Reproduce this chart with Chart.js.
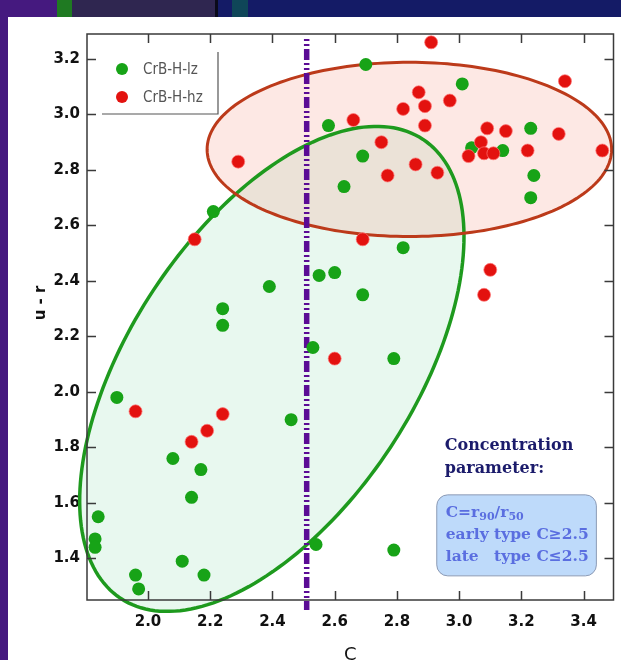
<!DOCTYPE html>
<html>
<head>
<meta charset="utf-8">
<title>CrB-H u-r vs C</title>
<script src="https://cdn.jsdelivr.net/npm/chart.js@4/dist/chart.umd.min.js"></script>
<style>
  html, body { margin: 0; padding: 0; background: #45197f; overflow: hidden; }
  #myChart { display: block; width: 621px; height: 660px; }
</style>
</head>
<body>
<canvas id="myChart" width="621" height="660"></canvas>
<script>
// concentration C and u-r colour, low-z group
const lzC = [2.70, 3.01, 2.58, 2.69, 2.63, 3.04, 3.14, 3.23, 3.24, 3.23, 2.21, 2.82,
  1.90, 2.39, 2.24, 2.24, 2.46, 2.53, 2.55, 2.60, 2.69, 2.79, 2.08, 2.17, 2.14,
  1.84, 1.83, 1.83, 2.11, 1.96, 1.97, 2.18, 2.54, 2.79];
const lzUR = [3.18, 3.11, 2.96, 2.85, 2.74, 2.88, 2.87, 2.95, 2.78, 2.70, 2.65, 2.52,
  1.98, 2.38, 2.30, 2.24, 1.90, 2.16, 2.42, 2.43, 2.35, 2.12, 1.76, 1.72, 1.62,
  1.55, 1.47, 1.44, 1.39, 1.34, 1.29, 1.34, 1.45, 1.43];

// high-z group
const hzC = [2.91, 3.34, 2.87, 2.97, 2.82, 2.89, 2.66, 2.89, 3.09, 3.15, 3.32, 3.07,
  2.75, 3.08, 3.11, 3.03, 3.22, 3.46, 2.29, 2.86, 2.93, 2.77, 2.69, 2.15, 1.96,
  2.24, 2.19, 2.14, 3.10, 3.08, 2.60];
const hzUR = [3.26, 3.12, 3.08, 3.05, 3.02, 3.03, 2.98, 2.96, 2.95, 2.94, 2.93, 2.90,
  2.90, 2.86, 2.86, 2.85, 2.87, 2.87, 2.83, 2.82, 2.79, 2.78, 2.55, 2.55, 1.93,
  1.92, 1.86, 1.82, 2.44, 2.35, 2.12];

const xTicks = [2.0, 2.2, 2.4, 2.6, 2.8, 3.0, 3.2, 3.4];
const yTicks = [1.4, 1.6, 1.8, 2.0, 2.2, 2.4, 2.6, 2.8, 3.0, 3.2];

const cutC = 2.51; // early / late split line

// ellipses in data units: centre, two half-axis vectors
const redEll = { c: [2.84, 2.874], u: [0.650, 0], v: [0, 0.314] };
const greenEll = { c: [2.398, 2.083], u: [0.486, 0.827], v: [-0.381, 0.283] };

const tickFont = { family: "DejaVu Sans", size: 15, weight: "bold" };

function ellipsePath(c, xs, ys, e) {
  c.beginPath();
  for (let i = 0; i <= 200; i++) {
    const t = (i / 200) * Math.PI * 2;
    const px = xs.getPixelForValue(e.c[0] + e.u[0] * Math.cos(t) + e.v[0] * Math.sin(t));
    const py = ys.getPixelForValue(e.c[1] + e.u[1] * Math.cos(t) + e.v[1] * Math.sin(t));
    if (i === 0) c.moveTo(px, py);
    else c.lineTo(px, py);
  }
  c.closePath();
}

const deco = {
  id: "deco",
  beforeDraw(chart) {
    const c = chart.ctx;
    c.save();
    c.fillStyle = "#45197f";
    c.fillRect(0, 0, chart.width, chart.height);
    // strip of the slide above the panel
    c.fillStyle = "#1f7a22";
    c.fillRect(57, 0, 15, 17);
    c.fillStyle = "#2f2650";
    c.fillRect(72, 0, 143, 17);
    c.fillStyle = "#0a0a1a";
    c.fillRect(215, 0, 3, 17);
    c.fillStyle = "#141b66";
    c.fillRect(218, 0, chart.width - 218, 17);
    c.fillStyle = "#0f4658";
    c.fillRect(232, 0, 16, 17);
    c.fillStyle = "#ffffff";
    c.fillRect(8, 17, chart.width - 8, chart.height - 17);
    c.restore();
  },
  beforeDatasetsDraw(chart) {
    const c = chart.ctx;
    const xs = chart.scales.x, ys = chart.scales.y;
    c.save();
    ellipsePath(c, xs, ys, greenEll);
    c.fillStyle = "rgba(150,225,180,0.22)";
    c.fill();
    ellipsePath(c, xs, ys, redEll);
    c.fillStyle = "rgba(245,150,130,0.22)";
    c.fill();
    c.lineWidth = 3.5;
    c.strokeStyle = "#1e9a1e";
    ellipsePath(c, xs, ys, greenEll);
    c.stroke();
    c.lineWidth = 3;
    c.strokeStyle = "#bc3a1a";
    ellipsePath(c, xs, ys, redEll);
    c.stroke();

    // dash-dot split line
    const lx = xs.getPixelForValue(cutC);
    c.beginPath();
    c.moveTo(lx, ys.getPixelForValue(3.272));
    c.lineTo(lx, ys.getPixelForValue(1.214));
    c.setLineDash([2, 3, 2, 3, 11, 3]);
    c.lineWidth = 5.5;
    c.strokeStyle = "#5b0c95";
    c.stroke();
    c.restore();
  },
  afterDatasetsDraw(chart) {
    const c = chart.ctx;
    const xs = chart.scales.x, ys = chart.scales.y;
    const { left, right, top, bottom } = chart.chartArea;
    c.save();
    // frame and inward ticks
    c.strokeStyle = "#3a3a3a";
    c.lineWidth = 1.5;
    c.strokeRect(left, top, right - left, bottom - top);
    c.beginPath();
    xTicks.forEach((v) => {
      const px = Math.round(xs.getPixelForValue(v)) + 0.5;
      c.moveTo(px, bottom); c.lineTo(px, bottom - 9);
      c.moveTo(px, top); c.lineTo(px, top + 9);
    });
    yTicks.forEach((v) => {
      const py = Math.round(ys.getPixelForValue(v)) + 0.5;
      c.moveTo(left, py); c.lineTo(left + 9, py);
      c.moveTo(right, py); c.lineTo(right - 9, py);
    });
    c.stroke();

    // legend
    c.strokeStyle = "#555";
    c.lineWidth = 1.2;
    c.beginPath();
    c.moveTo(left + 131, top + 18);
    c.lineTo(left + 131, top + 80);
    c.lineTo(left + 15, top + 80);
    c.stroke();
    c.font = "15px 'DejaVu Sans Condensed', 'DejaVu Sans'";
    c.textBaseline = "middle";
    c.textAlign = "left";
    [chart.data.datasets[0], chart.data.datasets[1]].forEach((ds, i) => {
      const y = top + 35 + i * 28;
      c.fillStyle = ds.backgroundColor;
      c.beginPath();
      c.arc(left + 35, y, 6, 0, Math.PI * 2);
      c.fill();
      c.fillStyle = "#555";
      c.fillText(ds.label, left + 56, y + 1);
    });

    // concentration note
    const bx0 = xs.getPixelForValue(2.928), bx1 = xs.getPixelForValue(3.441);
    const by0 = ys.getPixelForValue(1.629), by1 = ys.getPixelForValue(1.337);
    c.fillStyle = "#1b1b6b";
    c.font = "bold 16px 'DejaVu Serif'";
    c.fillText("Concentration", bx0 + 8, by0 - 49);
    c.fillText("parameter:", bx0 + 8, by0 - 26);
    c.beginPath();
    c.roundRect(bx0, by0, bx1 - bx0, by1 - by0, 11);
    c.fillStyle = "#bedafa";
    c.fill();
    c.strokeStyle = "#8d9bb5";
    c.lineWidth = 1;
    c.stroke();
    c.fillStyle = "#5a6ee0";
    const tx = bx0 + 9;
    let y = by0 + 18, x = tx;
    const main = "bold 15.5px 'DejaVu Serif'", sub = "bold 11px 'DejaVu Serif'";
    [["C=r", main, 0], ["90", sub, 4], ["/r", main, 0], ["50", sub, 4]].forEach(([s, f, dy]) => {
      c.font = f;
      c.fillText(s, x, y + dy);
      x += c.measureText(s).width;
    });
    c.font = main;
    c.fillText("early type C\u22652.5", tx, by0 + 40);
    const typeX = tx + c.measureText("early ").width;
    c.fillText("late", tx, by0 + 62);
    c.fillText("type C\u22642.5", typeX, by0 + 62);

    // axis titles
    c.fillStyle = "#111";
    c.font = "bold 15px 'DejaVu Sans'";
    c.textAlign = "center";
    c.translate(41, 303);
    c.rotate(-Math.PI / 2);
    c.fillText("u - r", 0, 0);
    c.setTransform(1, 0, 0, 1, 0, 0);
    c.font = "18px 'DejaVu Sans'";
    c.textBaseline = "top";
    c.fillText("C", (left + right) / 2, 646);
    c.restore();
  },
};

const ctx = document.getElementById("myChart").getContext("2d");
const myChart = new Chart(ctx, {
  type: "scatter",
  data: {
    datasets: [
      {
        label: "CrB-H-lz",
        data: lzC.map((v, i) => ({ x: v, y: lzUR[i] })),
        backgroundColor: "#17a317",
        borderColor: "#17a317",
        borderWidth: 0,
        pointRadius: 6.5,
        order: 1,
      },
      {
        label: "CrB-H-hz",
        data: hzC.map((v, i) => ({ x: v, y: hzUR[i] })),
        backgroundColor: "#e3120f",
        borderColor: "rgba(255,120,120,0.7)",
        borderWidth: 1,
        pointRadius: 6.5,
        order: 0,
      },
    ],
  },
  options: {
    responsive: false,
    animation: false,
    events: [],
    layout: { padding: { top: 34, right: 7, left: 0, bottom: 0 } },
    plugins: { legend: { display: false }, tooltip: { enabled: false } },
    scales: {
      x: {
        type: "linear",
        min: 1.804,
        max: 3.496,
        afterBuildTicks: (s) => { s.ticks = xTicks.map((v) => ({ value: v })); },
        afterFit: (s) => { s.height = 60; },
        grid: { display: false, drawTicks: false },
        border: { display: false },
        ticks: {
          autoSkip: false, maxRotation: 0, padding: 13, color: "#111",
          font: tickFont, callback: (v) => v.toFixed(1),
        },
      },
      y: {
        type: "linear",
        min: 1.25,
        max: 3.29,
        afterBuildTicks: (s) => { s.ticks = yTicks.map((v) => ({ value: v })); },
        afterFit: (s) => { s.width = 87; },
        grid: { display: false, drawTicks: false },
        border: { display: false },
        ticks: {
          autoSkip: false, padding: 7, color: "#111",
          font: tickFont, callback: (v) => v.toFixed(1),
        },
      },
    },
  },
  plugins: [deco],
});
</script>
</body>
</html>
